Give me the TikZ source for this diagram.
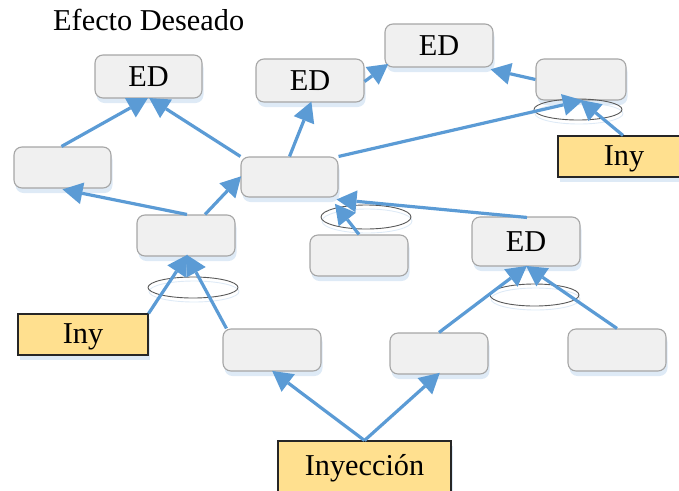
\documentclass[tikz,border=0pt]{standalone}
\usepackage{fontspec}
\setmainfont{Liberation Serif}
\usetikzlibrary{arrows.meta,shapes.geometric}
\definecolor{arrowblue}{HTML}{5B9BD5}
\definecolor{shadowblue}{HTML}{DEEAF6}
\definecolor{boxfill}{HTML}{F0F0F0}
\definecolor{boxline}{HTML}{A6A6A6}
\definecolor{inyfill}{HTML}{FFE08F}
\tikzset{
  x=1pt,y=-1pt,
  softshadow/.style={preaction={draw=none,fill=shadowblue,transform canvas={xshift=1.5pt,yshift=-5pt}}},
  roundbox/.style={draw=boxline,line width=1.1pt,fill=boxfill,rounded corners=8pt,inner sep=0pt,softshadow,font=\fontsize{30.3}{31}\selectfont},
  inybox/.style={draw=black!85,line width=1.1pt,fill=inyfill,inner sep=0pt,softshadow,font=\fontsize{30.3}{31}\selectfont},
  link/.style={color=arrowblue,line width=3.2pt,-{Triangle[length=20pt,width=22pt,line width=0pt,color=arrowblue,fill=arrowblue]},shorten >=-1pt},
  ring/.style={ellipse,draw=black!65,line width=0.9pt,inner sep=0pt,preaction={draw=shadowblue,transform canvas={xshift=1pt,yshift=-4pt}}},
}
\newcommand{\rbox}[6]{\node[roundbox,minimum width=#4 pt-#2 pt,minimum height=#5 pt-#3 pt] (#1) at ({(#2+#4)/2},{(#3+#5)/2}) {#6};}
\newcommand{\ibox}[6]{\node[inybox,minimum width=#4 pt-#2 pt,minimum height=#5 pt-#3 pt] (#1) at ({(#2+#4)/2},{(#3+#5)/2}) {#6};}
\newcommand{\rring}[5]{\node[ring,minimum width=#4 pt-#2 pt,minimum height=#5 pt-#3 pt] (#1) at ({(#2+#4)/2},{(#3+#5)/2}) {};}
\newcommand{\lowtext}[1]{\raisebox{-9pt}[0pt][0pt]{\makebox[0pt]{#1}}}
\begin{document}
\begin{tikzpicture}
\useasboundingbox (0,0) rectangle (679,490);
\node[anchor=base west,inner sep=0pt,font=\fontsize{30.3}{31}\selectfont] (title) at (53,30) {Efecto Deseado};
% boxes
\rbox{ed1}{95}{55}{202}{98}{ED}
\rbox{ed2}{256}{59}{364}{102}{ED}
\rbox{ed3}{385}{24}{493}{67}{ED}
\rbox{rt}{536}{59}{626}{100}{}
\rbox{lf}{14}{147}{111}{188}{}
\rbox{ctr}{241}{157}{338}{197}{}
\rbox{bl}{137}{215}{235}{256}{}
\rbox{low}{310}{235}{408}{276}{}
\rbox{ed4}{472}{217}{580}{266}{ED}
\rbox{b1}{223}{329}{321}{371}{}
\rbox{b2}{390}{333}{488}{374}{}
\rbox{b3}{568}{329}{666}{371}{}
\ibox{iny1}{18}{314}{148}{355}{\lowtext{Iny}}
\ibox{iny2}{558}{136}{690}{177}{\lowtext{Iny}}
\ibox{inj}{278}{441}{451}{495}{Inyección}
% ellipses
\rring{r1}{148}{277}{238}{298}
\rring{r2}{321}{205}{411}{229}
\rring{r3}{534}{99}{622}{120}
\rring{r4}{490}{284}{579}{306}
% connectors
\draw[link] ([xshift=-1pt]lf.north) -- ([xshift=-1.5pt]ed1.south);
\draw[link] (ctr.north west) -- ([xshift=1.5pt]ed1.south);
\draw[link] (ctr.north) -- ([xshift=1pt]ed2.south);
\draw[link] ([yshift=-1pt]ed2.east) -- ([xshift=3pt,yshift=3pt]ed3.south west);
\draw[link] (rt.west) -- ([xshift=-2pt,yshift=-2pt]ed3.south east);
\draw[link] (ctr.north east) -- ([xshift=1pt]rt.south);
\draw[link] ([xshift=-1pt]iny2.north) -- ([xshift=0pt]rt.south);
\draw[link] ([xshift=1pt]bl.north) -- ([xshift=1pt,yshift=-1pt]lf.south);
\draw[link] ([xshift=19pt]bl.north) -- (ctr.west);
\draw[link] ([yshift=0pt]low.north) -- ([xshift=-3pt,yshift=-7pt]ctr.south east);
\draw[link] ([xshift=1pt,yshift=-1pt]ed4.north) -- ([xshift=-1pt,yshift=-2pt]ctr.south east);
\draw[link] (iny1.north east) -- ([xshift=1pt,yshift=1pt]bl.south);
\draw[link] ([xshift=4pt]b1.north west) -- ([xshift=1pt,yshift=1pt]bl.south);
\draw[link] (inj.north) -- ([xshift=1pt]b1.south);
\draw[link] (inj.north) -- ([yshift=1pt]b2.south);
\draw[link] (b2.north) -- ([xshift=0pt]ed4.south);
\draw[link] (b3.north) -- ([xshift=1pt]ed4.south);
\end{tikzpicture}
\end{document}
